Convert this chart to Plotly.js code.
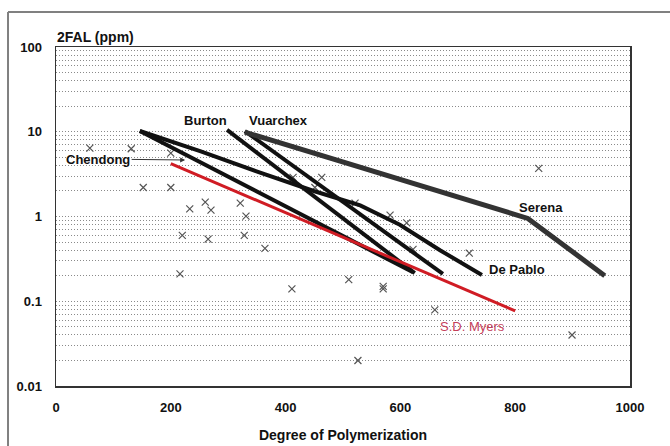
<!DOCTYPE html>
<html>
<head>
<meta charset="utf-8">
<script src="https://cdn.plot.ly/plotly-3.0.1.min.js"></script>
<style>
  html, body { margin: 0; padding: 0; background: #fff; }
  #chart { width: 670px; height: 446px; }
</style>
</head>
<body>
<div id="chart"></div>
<script>
// ---- data ----
const scatterDP  = [59, 131, 200, 152, 200, 233, 260, 270, 321, 331, 220, 265, 328, 364, 216, 411, 510, 570, 570, 660, 899, 526, 720, 622, 841, 413, 463, 451, 521, 582, 611];
const scatterFAL = [6.4, 6.3, 5.6, 2.2, 2.2, 1.23, 1.48, 1.19, 1.44, 1.01, 0.60, 0.54, 0.60, 0.42, 0.21, 0.14, 0.18, 0.15, 0.14, 0.079, 0.040, 0.020, 0.37, 0.41, 3.7, 2.9, 2.9, 2.2, 1.44, 1.04, 0.84];

const dePabloDP  = [146, 251, 348, 449, 530, 599, 669, 742];
const dePabloFAL = [10.2, 5.9, 3.44, 2.0, 1.35, 0.8, 0.4, 0.204];

const chendongDP  = [146, 622];
const chendongFAL = [10.2, 0.22];

const burtonDP  = [298, 625];
const burtonFAL = [10.5, 0.215];

const vuarchexDP  = [329, 674];
const vuarchexFAL = [10.2, 0.21];

const serenaDP  = [329, 806, 822, 956];
const serenaFAL = [9.9, 1.05, 0.95, 0.2];

const myersDP  = [200, 800];
const myersFAL = [4.2, 0.077];

const yTickVals = [0.01, 0.1, 1, 10, 100];
const yTickText = ['0.01', '0.1', '1', '10', '100'];
const xTickVals = [0, 200, 400, 600, 800, 1000];

// ---- chart ----
const FONT = 'Liberation Sans, Arial, sans-serif';
function line(x, y, color, width) {
  return { x: x, y: y, type: 'scatter', mode: 'lines', hoverinfo: 'skip',
           line: { color: color, width: width }, showlegend: false };
}

const traces = [
  { x: scatterDP, y: scatterFAL, type: 'scatter', mode: 'markers', showlegend: false,
    marker: { symbol: 'x-thin-open', size: 7, color: '#555', line: { color: '#555', width: 1.2 } } },
  line(dePabloDP, dePabloFAL, '#111', 4),
  line(chendongDP, chendongFAL, '#111', 4),
  line(burtonDP, burtonFAL, '#111', 4),
  line(vuarchexDP, vuarchexFAL, '#111', 4),
  line(serenaDP, serenaFAL, '#333', 5),
  line(myersDP, myersFAL, '#d01c24', 3)
];

const lab = (text, x, yv, extra) => Object.assign({
  text: '<b>' + text + '</b>', x: x, y: Math.log10(yv), xref: 'x', yref: 'y',
  showarrow: false, font: { family: FONT, size: 13, color: '#111' }
}, extra || {});

const GRID = '#8a8a8a';
const layout = {
  width: 670, height: 446,
  margin: { l: 56, r: 40, t: 47, b: 60 },
  paper_bgcolor: '#fff', plot_bgcolor: '#fff',
  font: { family: FONT, size: 13, color: '#111' },
  title: { text: '<b>2FAL (ppm)</b>', xref: 'container', yref: 'container',
           x: 57 / 670, xanchor: 'left', y: 1 - 37 / 446, yanchor: 'middle',
           font: { family: FONT, size: 14, color: '#111' } },
  xaxis: {
    range: [0, 1000], tickvals: xTickVals, ticks: '', showgrid: false, zeroline: false,
    showline: true, linecolor: '#333', linewidth: 1.5, mirror: true,
    ticklabelstandoff: 9,
    tickfont: { family: FONT, size: 13, color: '#111', weight: 'bold' },
    title: { text: '<b>Degree of Polymerization</b>', standoff: 16,
             font: { family: FONT, size: 14, color: '#111' } }
  },
  yaxis: {
    type: 'log', range: [-2, 2], tickvals: yTickVals, ticktext: yTickText, ticks: '',
    showline: true, linecolor: '#333', linewidth: 1.5, mirror: true, zeroline: false,
    showgrid: true, gridcolor: GRID, griddash: '1px,2px', gridwidth: 1,
    ticklabelstandoff: 10,
    tickfont: { family: FONT, size: 13, color: '#111', weight: 'bold' },
    minor: { dtick: 'D1', showgrid: true, gridcolor: GRID, griddash: '1px,2px', gridwidth: 1, ticks: '' }
  },
  annotations: [
    lab('Burton', 261, 13.4),
    lab('Vuarchex', 387, 13.4),
    lab('Serena', 845, 1.29),
    lab('De Pablo', 803, 0.24),
    { text: 'S.D. Myers', x: 726, y: Math.log10(0.051), xref: 'x', yref: 'y', showarrow: false,
      font: { family: FONT, size: 13, color: '#c4405a' } },
    { text: '<b>Chendong</b>', x: 225, y: Math.log10(4.64), xref: 'x', yref: 'y',
      showarrow: true, ax: -87, ay: -1, arrowhead: 2, arrowsize: 1, arrowwidth: 1,
      arrowcolor: '#333', font: { family: FONT, size: 13, color: '#111' } }
  ],
  shapes: [
    { type: 'line', xref: 'paper', yref: 'paper', x0: -0.0836, x1: -0.0836, y0: 1.103, y1: -0.2,
      line: { color: '#808080', width: 2 } },
    { type: 'line', xref: 'paper', yref: 'paper', x0: -0.0836, x1: 1.1, y0: 1.103, y1: 1.103,
      line: { color: '#808080', width: 2 } }
  ]
};

Plotly.newPlot('chart', traces, layout, { staticPlot: true, displayModeBar: false });
</script>
</body>
</html>
